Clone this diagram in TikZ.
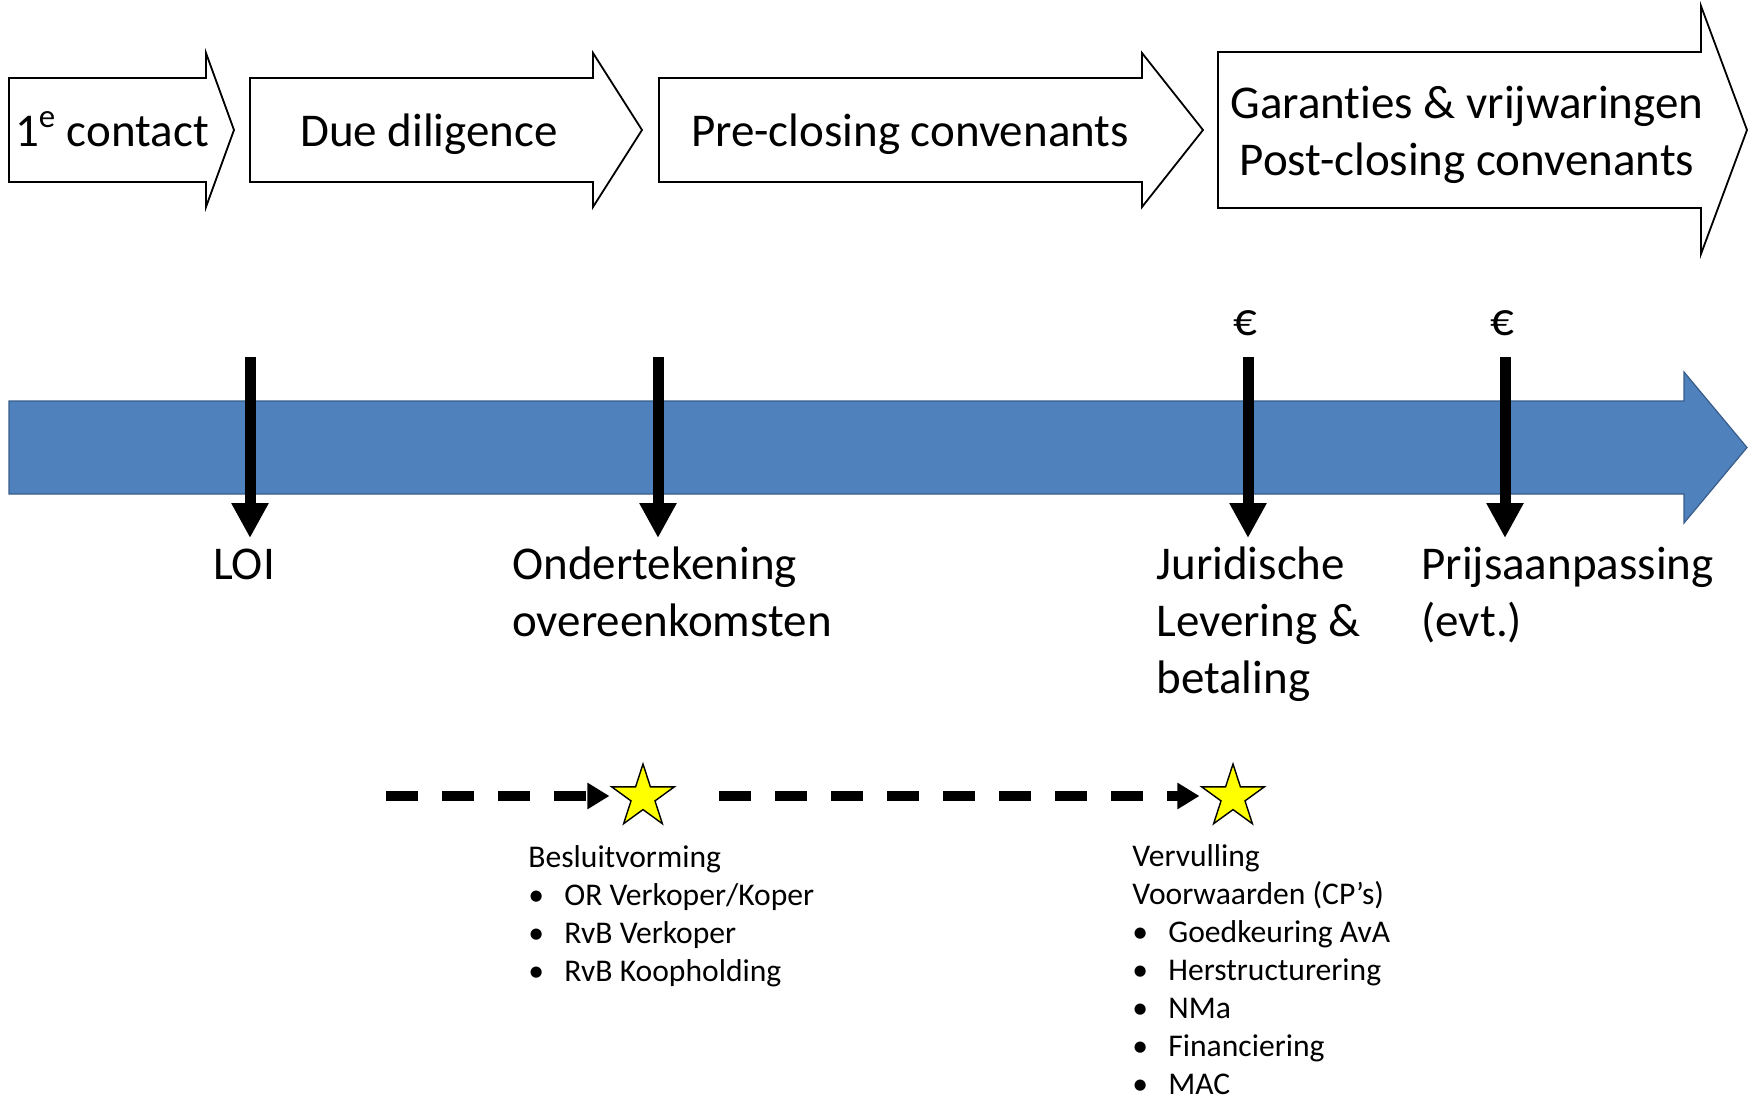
\documentclass[tikz,border=0pt]{standalone}
\usepackage{fontspec}
\setmainfont{Carlito}[Ligatures=NoCommon]
\usepackage{tikz}
\usetikzlibrary{arrows.meta, shapes.geometric}

\definecolor{tijdblauw}{HTML}{4F81BD}
\definecolor{tijdrand}{HTML}{385D8A}
\definecolor{stergeel}{HTML}{FFFF00}

\newcommand{\groot}{\fontsize{23.5}{28.5}\selectfont}
\newcommand{\klein}{\fontsize{15.8}{19}\selectfont}
\newcommand{\itm}[1]{\makebox[18pt][l]{•}#1}

\begin{document}
\begin{tikzpicture}[x=0.5pt, y=-0.5pt,
  fase/.style={draw=black, fill=white, line width=0.9pt},
  fasetekst/.style={font=\groot, inner sep=0pt, anchor=base},
  tijdlabel/.style={font=\groot, inner sep=0pt, align=left, anchor=base west},
  marker/.style={line width=5.5pt, -{Triangle[length=17.5pt, width=17.5pt]}},
  stippel/.style={line width=5pt, dash pattern=on 16pt off 12pt, -{Triangle[length=11pt, width=12.5pt]}},
  mijlpaal/.style={star, star points=5, star point ratio=2.618, draw=black, fill=stergeel, line width=0.7pt, minimum size=33pt, inner sep=0pt},
  lijst/.style={font=\klein, inner sep=0pt, align=left, anchor=base west}]
\useasboundingbox (0,0) rectangle (1758,1103);

% fases bovenaan
\draw [fase] (9,78) -- (206,78) -- (206,53) -- (234,130) -- (206,207) -- (206,182) -- (9,182) -- cycle;
\node [fasetekst] (contact) at (112,146) {1\textsuperscript{e} contact};
\draw [fase] (250,78) -- (593,78) -- (593,53) -- (642,130) -- (593,207) -- (593,182) -- (250,182) -- cycle;
\node [fasetekst] (due) at (429,146) {Due diligence};
\draw [fase] (659,78) -- (1142,78) -- (1142,53) -- (1203,130) -- (1142,207) -- (1142,182) -- (659,182) -- cycle;
\node [fasetekst] (preclosing) at (910,146) {Pre-closing convenants};
\draw [fase] (1218,52) -- (1701,52) -- (1701,6) -- (1747,130) -- (1701,254) -- (1701,208) -- (1218,208) -- cycle;
% base = laatste regel
\node [fasetekst, align=center] (garanties) at (1467,175) {Garanties \& vrijwaringen\\Post-closing convenants};

% tijdlijn
\draw [fill=tijdblauw, draw=tijdrand, line width=0.6pt] (9,401) -- (1684,401) -- (1684,372) -- (1747,447.5) -- (1684,523) -- (1684,494) -- (9,494) -- cycle;

\node [fasetekst] (euro1) at (1245,335) {€};
\node [fasetekst] (euro2) at (1502,335) {€};

\coordinate (loiboven) at (250,357);
\coordinate (loieind) at (250,538);
\coordinate (ondboven) at (658,357);
\coordinate (ondeind) at (658,538);
\coordinate (jurboven) at (1248,357);
\coordinate (jureind) at (1248,538);
\coordinate (prijsboven) at (1505,357);
\coordinate (prijseind) at (1505,538);
\draw [marker] (loiboven) -- (loieind);
\draw [marker] (ondboven) -- (ondeind);
\draw [marker] (jurboven) -- (jureind);
\draw [marker] (prijsboven) -- (prijseind);

\node [fasetekst] (loi) at (244,579) {LOI};
\node [tijdlabel] (ondertekening) at (512,636) {Ondertekening\\overeenkomsten};
\node [tijdlabel] (juridisch) at (1156,693) {Juridische\\Levering \&\\betaling};
\node [tijdlabel] (prijs) at (1421,636) {Prijsaanpassing\\(evt.)};

% voorwaarden
\node [mijlpaal] (ster1) at (643,797) {};
\node [mijlpaal] (ster2) at (1233,797) {};
\coordinate (stip1) at (386,796);
\coordinate (stip2) at (719,796);
\draw [stippel] (stip1) -- (ster1.outer point 2 |- stip1);
\draw [stippel] (stip2) -- (ster2.outer point 2 |- stip2);

\node [lijst] (besluit) at (528,981) {Besluitvorming\\\itm{OR Verkoper/Koper}\\\itm{RvB Verkoper}\\\itm{RvB Koopholding}};
\node [lijst] (vervulling) at (1132,1094) {Vervulling\\Voorwaarden (CP’s)\\\itm{Goedkeuring AvA}\\\itm{Herstructurering}\\\itm{NMa}\\\itm{Financiering}\\\itm{MAC}};
\end{tikzpicture}
\end{document}
